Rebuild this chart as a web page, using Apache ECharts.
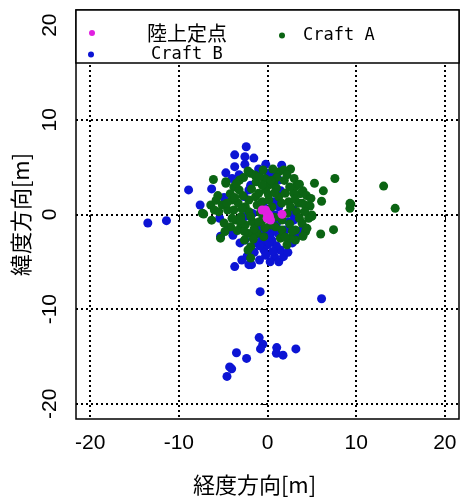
<!DOCTYPE html>
<html>
<head>
<meta charset="utf-8">
<script src="https://cdn.jsdelivr.net/npm/echarts@6/dist/echarts.min.js"></script>
<style>html,body{margin:0;padding:0;background:#fff;}#c{width:462px;height:497px;}</style>
</head>
<body>
<div id="c"></div>
<script>
const tickValues = [-20, -10, 0, 10, 20];
const seriesNames = ['陸上定点', 'Craft A', 'Craft B'];
const fixedPoint = [[-0.6,0.47],[-0.22,0.47],[-0.04,0.13],[0.15,-0.05],[0.22,-0.23],[0.34,-0.58],[-0.04,-0.4],[1.64,0.02]];
const craftA = [[-6.1,3.7],[-6.4,1.0],[-7.2,0.05],[-6.3,-0.6],[-5.3,-2.5],[-5.1,1.0],[-4.7,3.3],
[2.6,4.8],[5.3,3.3],[7.6,3.8],[6.3,2.5],[6.1,1.4],[9.4,1.1],[9.3,0.65],[13.1,3.0],[14.4,0.65],[7.45,-1.6],[6.0,-2.06],[4.3,-1.8],[5.0,-0.2],[3.7,2.2],[3.9,1.2],
[-4.7,3.46],[-3.8,2.9],[-3.15,3.64],[-1.9,4.35],[-1.43,4.17],[-1.28,3.46],[-3.2,2.6],[-4.0,1.53],[-7.35,0.13],[-6.0,0.47],[-4.5,0.47],[-3.8,0.47],[-3.6,-0.58],[-3.0,-1.1],[-2.5,-1.1],[-1.7,-0.76],[-3.0,-0.23],[-2.5,0.82],[-2.1,1.53],[-1.35,1.88],[-1.17,1.0],[-2.1,-2.0],[-1.17,-2.0],[-0.42,-2.34],[-1.9,-3.4],[-2.2,-3.75],[-1.9,-4.6],[1.27,4.5],[1.83,4.7],[0.15,3.1],[0.7,3.3],[-0.22,2.6],[-1.0,2.24],[-0.6,1.35],[0.15,1.53],[1.27,1.88],[2.0,2.24],[2.95,2.24],[2.4,1.35],[3.5,1.18],[4.27,1.0],[9.3,1.18],[5.0,-0.05],[4.64,-0.4],[3.9,-0.93],[3.15,-1.64],[4.45,-1.46],[3.15,-2.7],[2.2,-3.2],[2.6,-2.5],[1.46,-2.5],[1.64,-1.64],[0.9,-1.3],[0.34,-1.1],[-0.6,-0.58],[1.64,-0.58],[2.2,0.13],[-2.1,0.3],[-4.0,-0.4],[-4.15,-1.3],
[0.5,0.8],[-0.8,0.2],[1.0,2.8],[-2.8,2.0],[3.2,3.0],[-0.3,3.8],[2.5,-1.0],[-1.5,-1.5],[0.8,-0.3],[-3.3,1.2],[1.9,3.6],[4.0,2.5],[-5.6,2.0],[3.3,0.3],[-2.6,-2.7],[4.8,0.9],[-4.9,-0.9],
[-4.2,2.2],[-3.5,3.3],[-2.7,3.9],[-2.2,4.6],[-0.9,4.0],[-0.5,4.7],[0.6,4.8],[1.0,3.9],[2.2,4.2],[3.0,3.8],[3.6,3.2],[4.4,2.0],[4.9,1.7],[4.2,0.3],[3.6,-0.4],[2.8,-1.8],[2.0,-2.4],[-0.3,-1.4],[-1.0,-0.8],[-1.9,-0.2],[-2.9,0.6],[-3.7,1.8],[-4.6,1.2],[-5.5,0.3],[-4.8,-1.8],[-3.4,-1.7],[-2.6,-1.8],[-1.6,-2.6],[0.1,2.1],[0.8,2.3],[1.6,1.2],[2.6,0.8],[3.1,1.6],[-1.8,2.7],[-0.6,3.1],[0.4,3.6],[2.5,2.9],[-3.0,-0.6],[-5.8,1.5],[4.0,-2.3]];
const craftB = [[-13.5,-0.9],[-11.4,-0.65],[-8.9,2.6],[-7.6,1.0],[-6.3,2.7],[-4.7,4.4],[-5.4,-0.4],[-4.5,-1.6],
[-0.83,-8.15],[6.1,-8.9],[-0.94,-13.0],[-0.53,-13.7],[-0.79,-14.2],[1.04,-14.06],[1.0,-14.65],[1.75,-14.86],[3.2,-14.2],[-3.5,-14.6],[-2.36,-15.2],[-4.27,-16.1],[-4.04,-16.3],[-4.57,-17.1],
[-2.4,7.15],[-3.7,6.3],[-2.55,6.1],[-1.54,5.96],[-2.55,5.3],[-3.7,5.05],[-4.9,1.8],[-4.35,-1.56],[-5.3,-2.3],[-3.1,-3.0],[-2.55,-2.7],[-2.3,-4.4],[-1.8,-5.3],[-2.1,-5.3],[-3.7,-5.5],[-0.4,-3.75],[-0.2,-4.3],[0.8,-4.45],[1.27,-5.0],[1.8,-4.45],[0.5,-2.7],[0.15,-2.16],[2.0,-1.64],[2.4,-0.76],[3.6,-2.0],[3.9,-1.64],[2.8,-3.0],[3.3,-2.3],[0.15,4.35],[0.5,4.2],[1.27,3.64],[-1.9,3.1],[-2.1,2.6],[-2.65,1.9],[0.7,1.35],[1.27,0.8],[2.95,0.47],[2.8,0.1],[0.9,-0.05],[2.95,-0.6],[-1.7,0.1],[-2.5,-0.2],[-1.0,-1.46],[-0.2,-1.64],[1.46,-3.75],
[0.0,-3.2],[1.0,-3.3],[-0.5,-2.8],[0.6,-3.9],[-1.2,-3.0],[0.3,0.3],[-0.5,1.0],[1.5,2.5],
[-3.2,4.2],[-1.0,4.8],[-0.2,5.3],[1.8,-2.2],[1.0,-1.0],[-0.8,-2.2],[-1.5,-4.0],[-0.9,-4.8],[0.3,-5.0],[2.3,-4.0],[-3.9,-2.2],[-4.0,3.8],[1.6,5.2],[-2.9,-4.8],
[0.4,-1.9],[1.2,-2.0],[0.2,-3.0],[-0.9,-3.3]];
const xName = '経度方向[m]';
const yName = '緯度方向[m]';

const colors = { fixed: '#e020e0', a: '#0b6413', b: '#0c14d4' };
const chart = echarts.init(document.getElementById('c'), null, { renderer: 'canvas' });

const tickFont = { fontFamily: 'Liberation Sans, Arial, sans-serif', fontSize: 21, color: '#000' };
const axisCommon = {
  type: 'value', min: -21.6, max: 21.6,
  axisLine: { show: false },
  axisTick: { show: true, length: 7, lineStyle: { color: '#000', width: 1 }, customValues: tickValues },
  splitLine: { show: true, lineStyle: { color: '#000', width: 2, type: [2, 3] } },
  nameLocation: 'middle',
  nameTextStyle: { fontFamily: 'Noto Sans CJK JP', fontSize: 22, color: '#000' }
};

chart.setOption({
  backgroundColor: '#fff',
  animation: false,
  grid: { left: 76, right: 3, top: 10, bottom: 78, show: true, borderColor: '#000', borderWidth: 1.5, outerBoundsMode: 'none', containLabel: false },
  xAxis: Object.assign({}, axisCommon, {
    name: xName, nameGap: 55,
    nameTextStyle: Object.assign({}, axisCommon.nameTextStyle, { padding: [0, 26, 0, 0] }),
    axisLabel: Object.assign({ margin: 14, customValues: tickValues }, tickFont)
  }),
  yAxis: Object.assign({}, axisCommon, {
    name: yName, nameGap: 43, nameRotate: 90,
    axisLabel: Object.assign({ margin: 15, rotate: 90, customValues: tickValues }, tickFont)
  }),
  legend: [
    { data: [seriesNames[0]], left: 84, top: 17, z: 200, icon: 'circle', itemWidth: 6, itemHeight: 6,
      textStyle: { fontFamily: 'Noto Sans CJK JP', fontSize: 20, color: '#000', lineHeight: 20, padding: [2, 0, 0, 47] } },
    { data: [seriesNames[2]], left: 83, top: 36, z: 200, icon: 'circle', itemWidth: 6, itemHeight: 6,
      textStyle: { fontFamily: 'DejaVu Sans Mono', fontSize: 17, color: '#000', lineHeight: 20, padding: [7, 0, 0, 52] } },
    { data: [seriesNames[1]], left: 274, top: 17, z: 200, icon: 'circle', itemWidth: 6, itemHeight: 6,
      textStyle: { fontFamily: 'DejaVu Sans Mono', fontSize: 17, color: '#000', lineHeight: 20, padding: [7, 0, 0, 13] } }
  ],
  graphic: [
    { type: 'rect', z: 100, shape: { x: 76, y: 10, width: 383, height: 53 },
      style: { fill: '#fff', stroke: '#000', lineWidth: 1.5 } }
  ],
  series: [
    { name: seriesNames[2], type: 'scatter', data: craftB, symbolSize: 9, itemStyle: { color: colors.b, opacity: 1 } },
    { name: seriesNames[1], type: 'scatter', data: craftA, symbolSize: 9, itemStyle: { color: colors.a, opacity: 1 } },
    { name: seriesNames[0], type: 'scatter', data: fixedPoint, symbolSize: 9, itemStyle: { color: colors.fixed, opacity: 1 } }
  ]
});
</script>
</body>
</html>
